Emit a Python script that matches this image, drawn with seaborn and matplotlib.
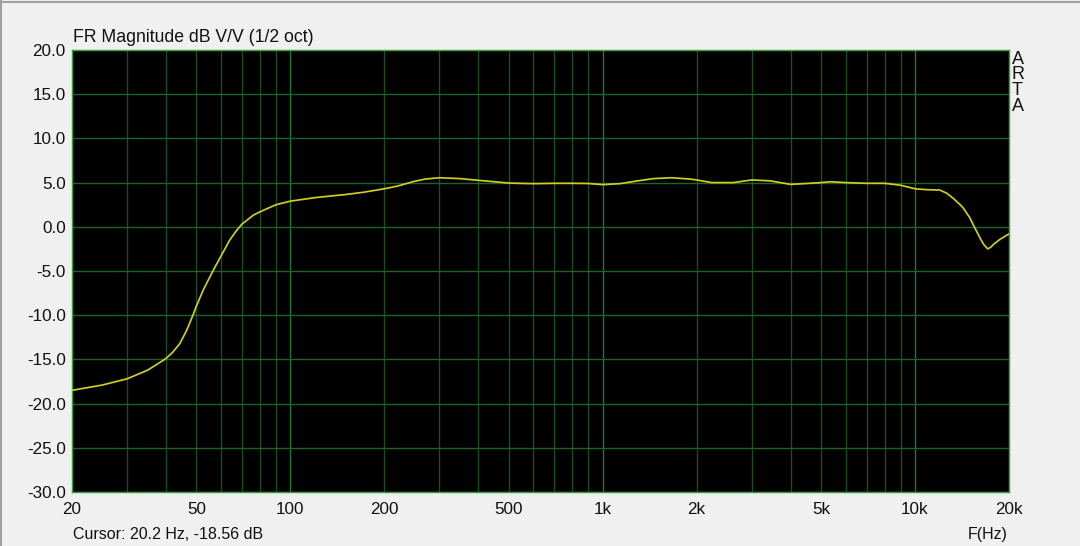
import numpy as np
import pandas as pd
import matplotlib
matplotlib.use("Agg")
import matplotlib.pyplot as plt
import seaborn as sns
from matplotlib.lines import Line2D

# ---- data ----
freq_hz = [20, 25, 30, 35, 40, 42, 44.3, 46.6, 48.9, 50, 52.7, 56.7, 60, 64,
           67, 70, 76, 80, 90, 100, 120, 150, 171, 200, 220, 247, 270, 300,
           350, 400, 500, 600, 700, 800, 900, 1000, 1137, 1286, 1453, 1663,
           1906, 2000, 2234, 2621, 3000, 3436, 4000, 4500, 5000, 5350, 6000,
           7000, 8000, 9000, 10000, 10900, 12000, 12640, 13275, 13950, 14290,
           15000, 15380, 16170, 16600, 17100, 17500, 17830, 18740, 20000]
mag_db = [-18.5, -17.9, -17.2, -16.2, -14.9, -14.2, -13.2, -11.7, -9.9, -9.0,
          -7.1, -4.9, -3.3, -1.5, -0.5, 0.3, 1.3, 1.7, 2.5, 2.9, 3.3, 3.65,
          3.9, 4.3, 4.6, 5.1, 5.4, 5.55, 5.45, 5.26, 4.95, 4.88, 4.92, 4.92,
          4.9, 4.77, 4.88, 5.18, 5.45, 5.55, 5.4, 5.3, 5.0, 5.0, 5.3, 5.2,
          4.8, 4.9, 5.0, 5.1, 5.0, 4.92, 4.92, 4.7, 4.3, 4.2, 4.16, 3.8, 3.2,
          2.5, 2.1, 1.0, 0.2, -1.3, -2.0, -2.5, -2.3, -2.0, -1.4, -0.8]
x_tick_vals = [20, 50, 100, 200, 500, 1000, 2000, 5000, 10000, 20000]
x_tick_labels = ["20", "50", "100", "200", "500", "1k", "2k", "5k", "10k", "20k"]
y_tick_vals = [20, 15, 10, 5, 0, -5, -10, -15, -20, -25, -30]
y_tick_labels = ["20.0", "15.0", "10.0", "5.0", "0.0", "-5.0", "-10.0",
                 "-15.0", "-20.0", "-25.0", "-30.0"]
title_text = "FR Magnitude dB V/V (1/2 oct)"
cursor_text = "Cursor: 20.2 Hz, -18.56 dB"
xlabel_text = "F(Hz)"
side_letters = ["A", "R", "T", "A"]

df = pd.DataFrame({"f": freq_hz, "db": mag_db})

sns.set_style("white")
plt.rcParams["font.family"] = ["Liberation Sans", "DejaVu Sans"]
FS = 11.5
TICK_FS = 12.3
TXT = "#111111"

fig = plt.figure(figsize=(10.8, 5.46), dpi=100)
fig.patch.set_facecolor("#f0f0f0")
ax = fig.add_axes([72 / 1080, 1 - 492 / 546, (1009 - 72) / 1080, (492 - 50) / 546])
ax.set_facecolor("#000000")

ax.set_xscale("log")
ax.set_xlim(20, 20000)
ax.set_ylim(-30, 20)

# grid lines (decade lines slightly brighter)
minor_grid = [m * 10 ** d for d in range(1, 5) for m in range(1, 10)
              if 20 <= m * 10 ** d <= 20000]
for v in minor_grid:
    is_decade = v in (100, 1000, 10000)
    ax.axvline(v, color="#277536" if is_decade else "#184d24",
               lw=1.0, zorder=1)
for v in y_tick_vals:
    ax.axhline(v, color="#1d6229", lw=1.0, zorder=1)

sns.lineplot(data=df, x="f", y="db", ax=ax, color="#cdcd24", lw=1.25,
             zorder=3, legend=False)

ax.set_xticks(x_tick_vals)
ax.set_xticklabels(x_tick_labels)
ax.xaxis.set_minor_locator(matplotlib.ticker.NullLocator())
ax.set_yticks(y_tick_vals)
ax.set_yticklabels(y_tick_labels)
ax.tick_params(axis="both", length=0, labelsize=TICK_FS, colors=TXT)
ax.tick_params(axis="x", pad=7.5)
ax.tick_params(axis="y", pad=4.5)
ax.set_xlabel("")
ax.set_ylabel("")
for s in ax.spines.values():
    s.set_color("#3d9a3d")
    s.set_linewidth(1.0)
    s.set_visible(True)

fig.text(73 / 1080, 1 - 42 / 546, title_text, fontsize=12.7, color=TXT,
         ha="left", va="baseline")
fig.text(73 / 1080, 1 - 539 / 546, cursor_text, fontsize=FS, color=TXT,
         ha="left", va="baseline")
fig.text(1008 / 1080, 1 - 539 / 546, xlabel_text, fontsize=FS, color=TXT,
         ha="right", va="baseline")
for i, ch in enumerate(side_letters):
    fig.text(1011.5 / 1080, 1 - (59 + 15.7 * i) / 546, ch, fontsize=13,
             color=TXT, ha="left", va="center")

# window border (top and left)
fig.add_artist(Line2D([0, 1], [1 - 1.5 / 546, 1 - 1.5 / 546],
                      transform=fig.transFigure, color="#a0a0a0", lw=1.5))
fig.add_artist(Line2D([0.7 / 1080, 0.7 / 1080], [0, 1],
                      transform=fig.transFigure, color="#a0a0a0", lw=1.5))

fig.savefig("out.png", dpi=100, facecolor=fig.get_facecolor())
